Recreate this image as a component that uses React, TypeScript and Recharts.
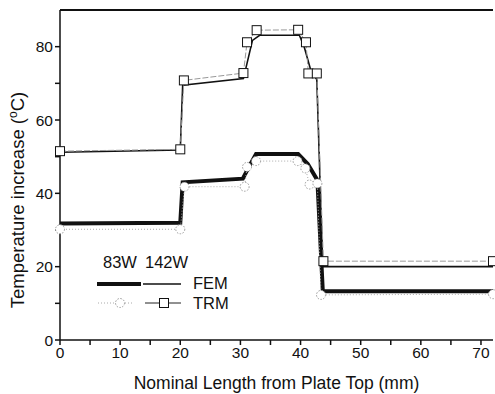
import React from 'react';
import { LineChart, Line, XAxis, YAxis, ReferenceLine } from 'recharts';

// positions along the plate (mm) and temperature rise (°C)
const FEM_83W_X = [0, 20, 20.4, 30.4, 31.5, 32.6, 39.6, 41.2, 42.8, 43.7, 72];
const FEM_83W_Y = [31.8, 32, 43, 44, 47.5, 50.7, 50.7, 48, 43.6, 13.3, 13.3];

const FEM_142W_X = [0, 20, 20.4, 30.5, 32, 33.2, 39.8, 40.6, 41.7, 42.7, 43.7, 72];
const FEM_142W_Y = [51.2, 51.8, 69.5, 71.3, 81.7, 83.1, 83.1, 80, 73.6, 71, 20, 20];

const TRM_83W_X = [0, 20, 20.7, 30.7, 31.1, 32.6, 39.5, 40.8, 41.5, 42.8, 43.4, 72];
const TRM_83W_Y = [30.2, 30.2, 41.8, 41.8, 47.2, 48.8, 48.8, 46.8, 42.4, 42.7, 12.3, 12.5];

const TRM_142W_X = [0, 20, 20.6, 30.5, 31.1, 32.7, 39.6, 40.9, 41.3, 42.7, 43.8, 72];
const TRM_142W_Y = [51.5, 52, 70.8, 72.8, 81.2, 84.5, 84.6, 81.2, 72.7, 72.7, 21.5, 21.5];

const X_TICKS = [0, 5, 10, 15, 20, 25, 30, 35, 40, 45, 50, 55, 60, 65, 70];
const Y_TICKS = [0, 10, 20, 30, 40, 50, 60, 70, 80];

const FONT = '"Liberation Sans", Arial, sans-serif';

const zip = (xs: number[], ys: number[]) => xs.map((x, i) => ({ x, y: ys[i] }));

const fem83 = zip(FEM_83W_X, FEM_83W_Y);
const fem142 = zip(FEM_142W_X, FEM_142W_Y);
const trm83 = zip(TRM_83W_X, TRM_83W_Y);
const trm142 = zip(TRM_142W_X, TRM_142W_Y);

const SquareDot = (props: any) => {
  const { cx, cy, index } = props;
  if (cx == null || cy == null) return <g key={index} />;
  return <rect key={index} x={cx - 4.5} y={cy - 4.5} width={9} height={9} fill="#fff" stroke="#111" strokeWidth={1} />;
};

const CircleDot = (props: any) => {
  const { cx, cy, index } = props;
  if (cx == null || cy == null) return <g key={index} />;
  return <circle key={index} cx={cx} cy={cy} r={4.5} fill="#fff" stroke="#999" strokeWidth={1} strokeDasharray="1.5 1.5" />;
};

const YTitle = () => (
  <text transform="translate(24,200) rotate(-90)" textAnchor="middle" fontSize={18.5} fontFamily={FONT} fill="#111">
    Temperature increase (<tspan fontSize={12} dy={-7}>o</tspan><tspan dy={7}>C)</tspan>
  </text>
);

const Legend = () => (
  <svg width={495} height={394} style={{ position: 'absolute', left: 0, top: 0, pointerEvents: 'none' }}>
    <g fontFamily={FONT} fontSize={16.5} fill="#111">
      <text x={103} y={268}>83W</text>
      <text x={145} y={268}>142W</text>
      <text x={193} y={289}>FEM</text>
      <text x={193} y={309}>TRM</text>
    </g>
    <line x1={97} y1={284} x2={141} y2={284} stroke="#111" strokeWidth={4} />
    <line x1={143} y1={284} x2={181} y2={284} stroke="#111" strokeWidth={1.5} />
    <line x1={98} y1={303} x2={134} y2={303} stroke="#aaa" strokeWidth={1} strokeDasharray="1 2" />
    <circle cx={120} cy={303} r={4.5} fill="#fff" stroke="#999" strokeDasharray="1.5 1.5" />
    <line x1={145} y1={303} x2={181} y2={303} stroke="#222" strokeWidth={1} />
    <rect x={159.5} y={298.5} width={9} height={9} fill="#fff" stroke="#111" />
  </svg>
);

export default function App() {
  return (
    <div style={{ position: 'absolute', left: 0, top: 0, width: 495, height: 394, background: '#fff', fontFamily: FONT, overflow: 'hidden' }}>
      <LineChart width={495} height={394} margin={{ top: 10, right: 2, left: 0, bottom: 0 }}>
        <XAxis
          dataKey="x" type="number" domain={[0, 72]} ticks={X_TICKS}
          tickFormatter={(v: number) => (v % 10 === 0 ? String(v) : '')}
          height={54} stroke="#111" strokeWidth={1.5} tickSize={5}
          tick={{ fill: '#111', fontSize: 15.5, fontFamily: FONT }}
          label={{ value: 'Nominal Length from Plate Top (mm)', position: 'insideBottom', offset: 5, fill: '#111', fontSize: 17.5, fontFamily: FONT }}
        />
        <YAxis
          type="number" domain={[0, 90]} ticks={Y_TICKS}
          tickFormatter={(v: number) => (v % 20 === 0 ? String(v) : '')}
          width={60} stroke="#111" strokeWidth={1.5} tickSize={5}
          tick={{ fill: '#111', fontSize: 15.5, fontFamily: FONT }}
          label={<YTitle />}
        />
        <ReferenceLine y={90} stroke="#111" strokeWidth={2} />
        <Line data={fem83} dataKey="y" type="linear" stroke="#111" strokeWidth={4} dot={false} isAnimationActive={false} />
        <Line data={fem142} dataKey="y" type="linear" stroke="#111" strokeWidth={1.6} dot={false} isAnimationActive={false} />
        <Line data={trm83} dataKey="y" type="linear" stroke="#aaa" strokeWidth={1} strokeDasharray="1 2" dot={<CircleDot />} isAnimationActive={false} />
        <Line data={trm142} dataKey="y" type="linear" stroke="#999" strokeWidth={1} strokeDasharray="6 2" dot={<SquareDot />} isAnimationActive={false} />
      </LineChart>
      <Legend />
    </div>
  );
}
